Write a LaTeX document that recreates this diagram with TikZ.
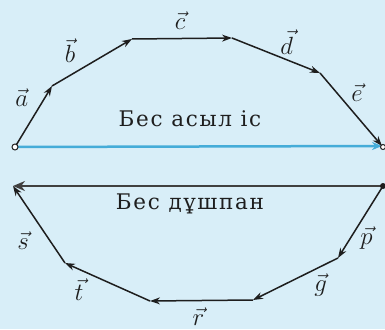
\documentclass[tikz,border=0pt]{standalone}
\usepackage{fontspec}
\setmainfont{DejaVu Serif}
\usetikzlibrary{arrows.meta}
\definecolor{SkyPaper}{HTML}{D8EEF8}
\definecolor{Ink}{HTML}{1E1E1E}
\definecolor{RayBlue}{HTML}{45ACD8}
\tikzset{
  vecline/.style={-{Stealth[length=10pt,width=7pt]}, line width=1.5pt, draw=Ink},
  rayline/.style={-{Stealth[length=10pt,width=8pt]}, line width=2.5pt, draw=RayBlue},
  longline/.style={-{Stealth[length=12pt,width=10pt]}, line width=2pt, draw=Ink!85},
  veclab/.style={font=\fontsize{25}{27}\selectfont, text=Ink, inner sep=0pt},
  caption/.style={font=\fontsize{21.5}{24}\selectfont\addfontfeature{LetterSpace=8}, text=Ink},
  opendot/.style={circle, draw=Ink, line width=1pt, fill=white, inner sep=0pt, minimum size=6pt},
  fulldot/.style={circle, fill=Ink, inner sep=0pt, minimum size=6pt},
}

\begin{document}
\begin{tikzpicture}[x=1pt, y=-1pt]
    \fill[SkyPaper] (0,0) rectangle (385,329);
    \useasboundingbox (0,0) rectangle (385,329);

    \coordinate (O1) at (15,147);
    \coordinate (A1) at (52,86);
    \coordinate (B1) at (132,39);
    \coordinate (C1) at (232,38);
    \coordinate (D1) at (320,73);
    \coordinate (E1) at (382,146);

    \coordinate (O2) at (383,186);
    \coordinate (P2) at (338,258);
    \coordinate (G2) at (253,300);
    \coordinate (R2) at (150,301);
    \coordinate (T2) at (65,263);
    \coordinate (S2) at (13,186);

    \draw[rayline] (O1) -- (E1);
    \draw[longline] (O2) -- (S2);

    \draw[vecline] (O1) -- (A1) node[veclab, pos=0.75, xshift=-21pt, yshift=4pt] (la) {$\vec{a}$};
    \draw[vecline] (A1) -- (B1) node[veclab, pos=0.5, xshift=-22pt, yshift=12pt] (lb) {$\vec{b}$};
    \draw[vecline] (B1) -- (C1) node[veclab, pos=0.5, xshift=-2pt, yshift=18pt] (lc) {$\vec{c}$};
    \draw[vecline] (C1) -- (D1) node[veclab, pos=0.6, xshift=2pt, yshift=17pt] (ld) {$\vec{d}$};
    \draw[vecline] (D1) -- (E1) node[veclab, pos=0.5, xshift=6pt, yshift=17pt] (le) {$\vec{e}$};

    \draw[vecline] (O2) -- (P2) node[veclab, pos=0.5, xshift=6pt, yshift=-16pt] (lp) {$\vec{p}$};
    \draw[vecline] (P2) -- (G2) node[veclab, pos=0.25, xshift=4pt, yshift=-17pt] (lg) {$\vec{g}$};
    \draw[vecline] (G2) -- (R2) node[veclab, pos=0.5, xshift=-3pt, yshift=-16pt] (lr) {$\vec{r}$};
    \draw[vecline] (R2) -- (T2) node[veclab, pos=0.8, xshift=-3pt, yshift=-19pt] (lt) {$\vec{t}$};
    \draw[vecline] (T2) -- (S2) node[veclab, pos=0.25, xshift=-29pt, yshift=3pt] (ls) {$\vec{s}$};

    \node[opendot] (o1dot) at (O1) {};
    \node[opendot, minimum size=5pt] (e1dot) at (383,147) {};
    \node[fulldot] (o2dot) at (O2) {};

    \node[caption] (good) at (190,119) {Бес асыл іс};
    \node[caption] (bad) at (190,204) {Бес дұшпан};
\end{tikzpicture}
\end{document}
